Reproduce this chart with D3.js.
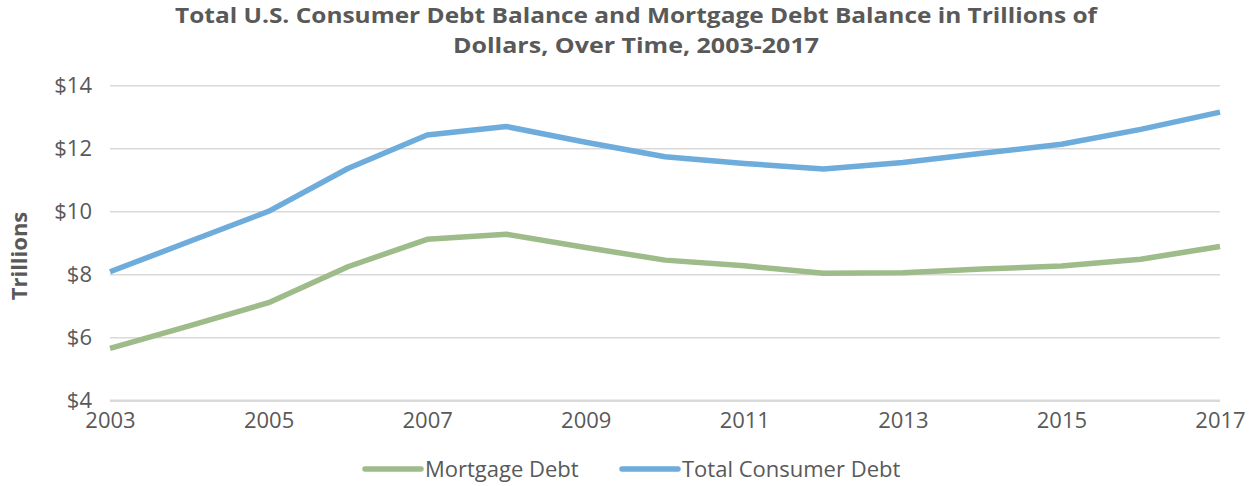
<!DOCTYPE html>
<html>
<head>
<meta charset="utf-8">
<script src="https://cdn.jsdelivr.net/npm/d3@7"></script>
<style>
  html, body { margin: 0; padding: 0; background: #ffffff; }
  svg { display: block; }
  text { font-family: "Open Sans", "Noto Sans", sans-serif; fill: #595959; }
</style>
</head>
<body>
<svg id="chart" width="1253" height="486"></svg>
<script>
// Years shown on the horizontal axis
const years = [2003, 2004, 2005, 2006, 2007, 2008, 2009, 2010, 2011, 2012, 2013, 2014, 2015, 2016, 2017];

// Balances in trillions of dollars
const mortgageDebt = [5.65, 6.36, 7.10, 8.24, 9.11, 9.27, 8.85, 8.45, 8.27, 8.03, 8.05, 8.17, 8.26, 8.48, 8.88];
const totalConsumerDebt = [8.08, 9.04, 10.00, 11.36, 12.42, 12.69, 12.19, 11.73, 11.52, 11.34, 11.55, 11.84, 12.13, 12.60, 13.15];

// Axis ticks
const yTicks = [4, 6, 8, 10, 12, 14];
const xTicks = [2003, 2005, 2007, 2009, 2011, 2013, 2015, 2017];

const seriesNames = ["Mortgage Debt", "Total Consumer Debt"];
const seriesColors = ["#9ebb8a", "#6eacdc"];

const titleLines = [
  "Total U.S. Consumer Debt Balance and Mortgage Debt Balance in Trillions of",
  "Dollars, Over Time, 2003-2017"
];

const svg = d3.select("#chart");

const x = d3.scaleLinear().domain([2003, 2017]).range([110, 1220]);
const y = d3.scaleLinear().domain([4, 14]).range([400.3, 85.3]);

// Two-line title
const titleWidths = [922, 366];
svg.append("g").selectAll("text")
  .data(titleLines)
  .join("text")
  .attr("x", 636)
  .attr("y", (d, i) => 23 + i * 30)
  .attr("text-anchor", "middle")
  .attr("font-size", 21.5)
  .attr("font-weight", 700)
  .attr("textLength", (d, i) => titleWidths[i])
  .attr("lengthAdjust", "spacingAndGlyphs")
  .text(d => d);

// Horizontal gridlines
const yAxis = d3.axisLeft(y)
  .tickValues(yTicks)
  .tickSize(-(x.range()[1] - x.range()[0]))
  .tickPadding(18)
  .tickFormat(d => "$" + d);

const gy = svg.append("g")
  .attr("transform", `translate(${x.range()[0]},0)`)
  .call(yAxis);
gy.select(".domain").remove();
gy.selectAll(".tick line")
  .attr("stroke", "#d9d9d9")
  .attr("stroke-width", d => d === 4 ? 2.5 : 1.5);
gy.selectAll(".tick text")
  .attr("font-size", 22)
  .attr("fill", "#595959")
  .attr("font-family", "\"Open Sans\", sans-serif");

// Year labels
const xAxis = d3.axisBottom(x)
  .tickValues(xTicks)
  .tickSize(0)
  .tickPadding(12)
  .tickFormat(d3.format("d"));

const gx = svg.append("g")
  .attr("transform", `translate(0,${y(4)})`)
  .call(xAxis);
gx.select(".domain").remove();
gx.selectAll(".tick text")
  .attr("font-size", 22)
  .attr("fill", "#595959")
  .attr("font-family", "\"Open Sans\", sans-serif");

// Vertical axis title
svg.append("text")
  .attr("transform", "translate(27,256) rotate(-90)")
  .attr("text-anchor", "middle")
  .attr("font-size", 22)
  .attr("font-weight", 700)
  .text("Trillions");

// Series lines
const line = d3.line()
  .x((d, i) => x(years[i]))
  .y(d => y(d));

const seriesData = [mortgageDebt, totalConsumerDebt];
svg.append("g").selectAll("path")
  .data(seriesData)
  .join("path")
  .attr("d", line)
  .attr("fill", "none")
  .attr("stroke", (d, i) => seriesColors[i])
  .attr("stroke-width", 5.5)
  .attr("stroke-linejoin", "round");

// Legend
const legendX = [365, 622];
const legend = svg.append("g").selectAll("g")
  .data(seriesNames)
  .join("g")
  .attr("transform", (d, i) => `translate(${legendX[i]},469)`);
legend.append("line")
  .attr("x1", 0).attr("x2", 56)
  .attr("y1", 0).attr("y2", 0)
  .attr("stroke", (d, i) => seriesColors[i])
  .attr("stroke-width", 5.5)
  .attr("stroke-linecap", "round");
legend.append("text")
  .attr("x", 60)
  .attr("y", 8)
  .attr("font-size", 22)
  .text(d => d);
</script>
</body>
</html>
